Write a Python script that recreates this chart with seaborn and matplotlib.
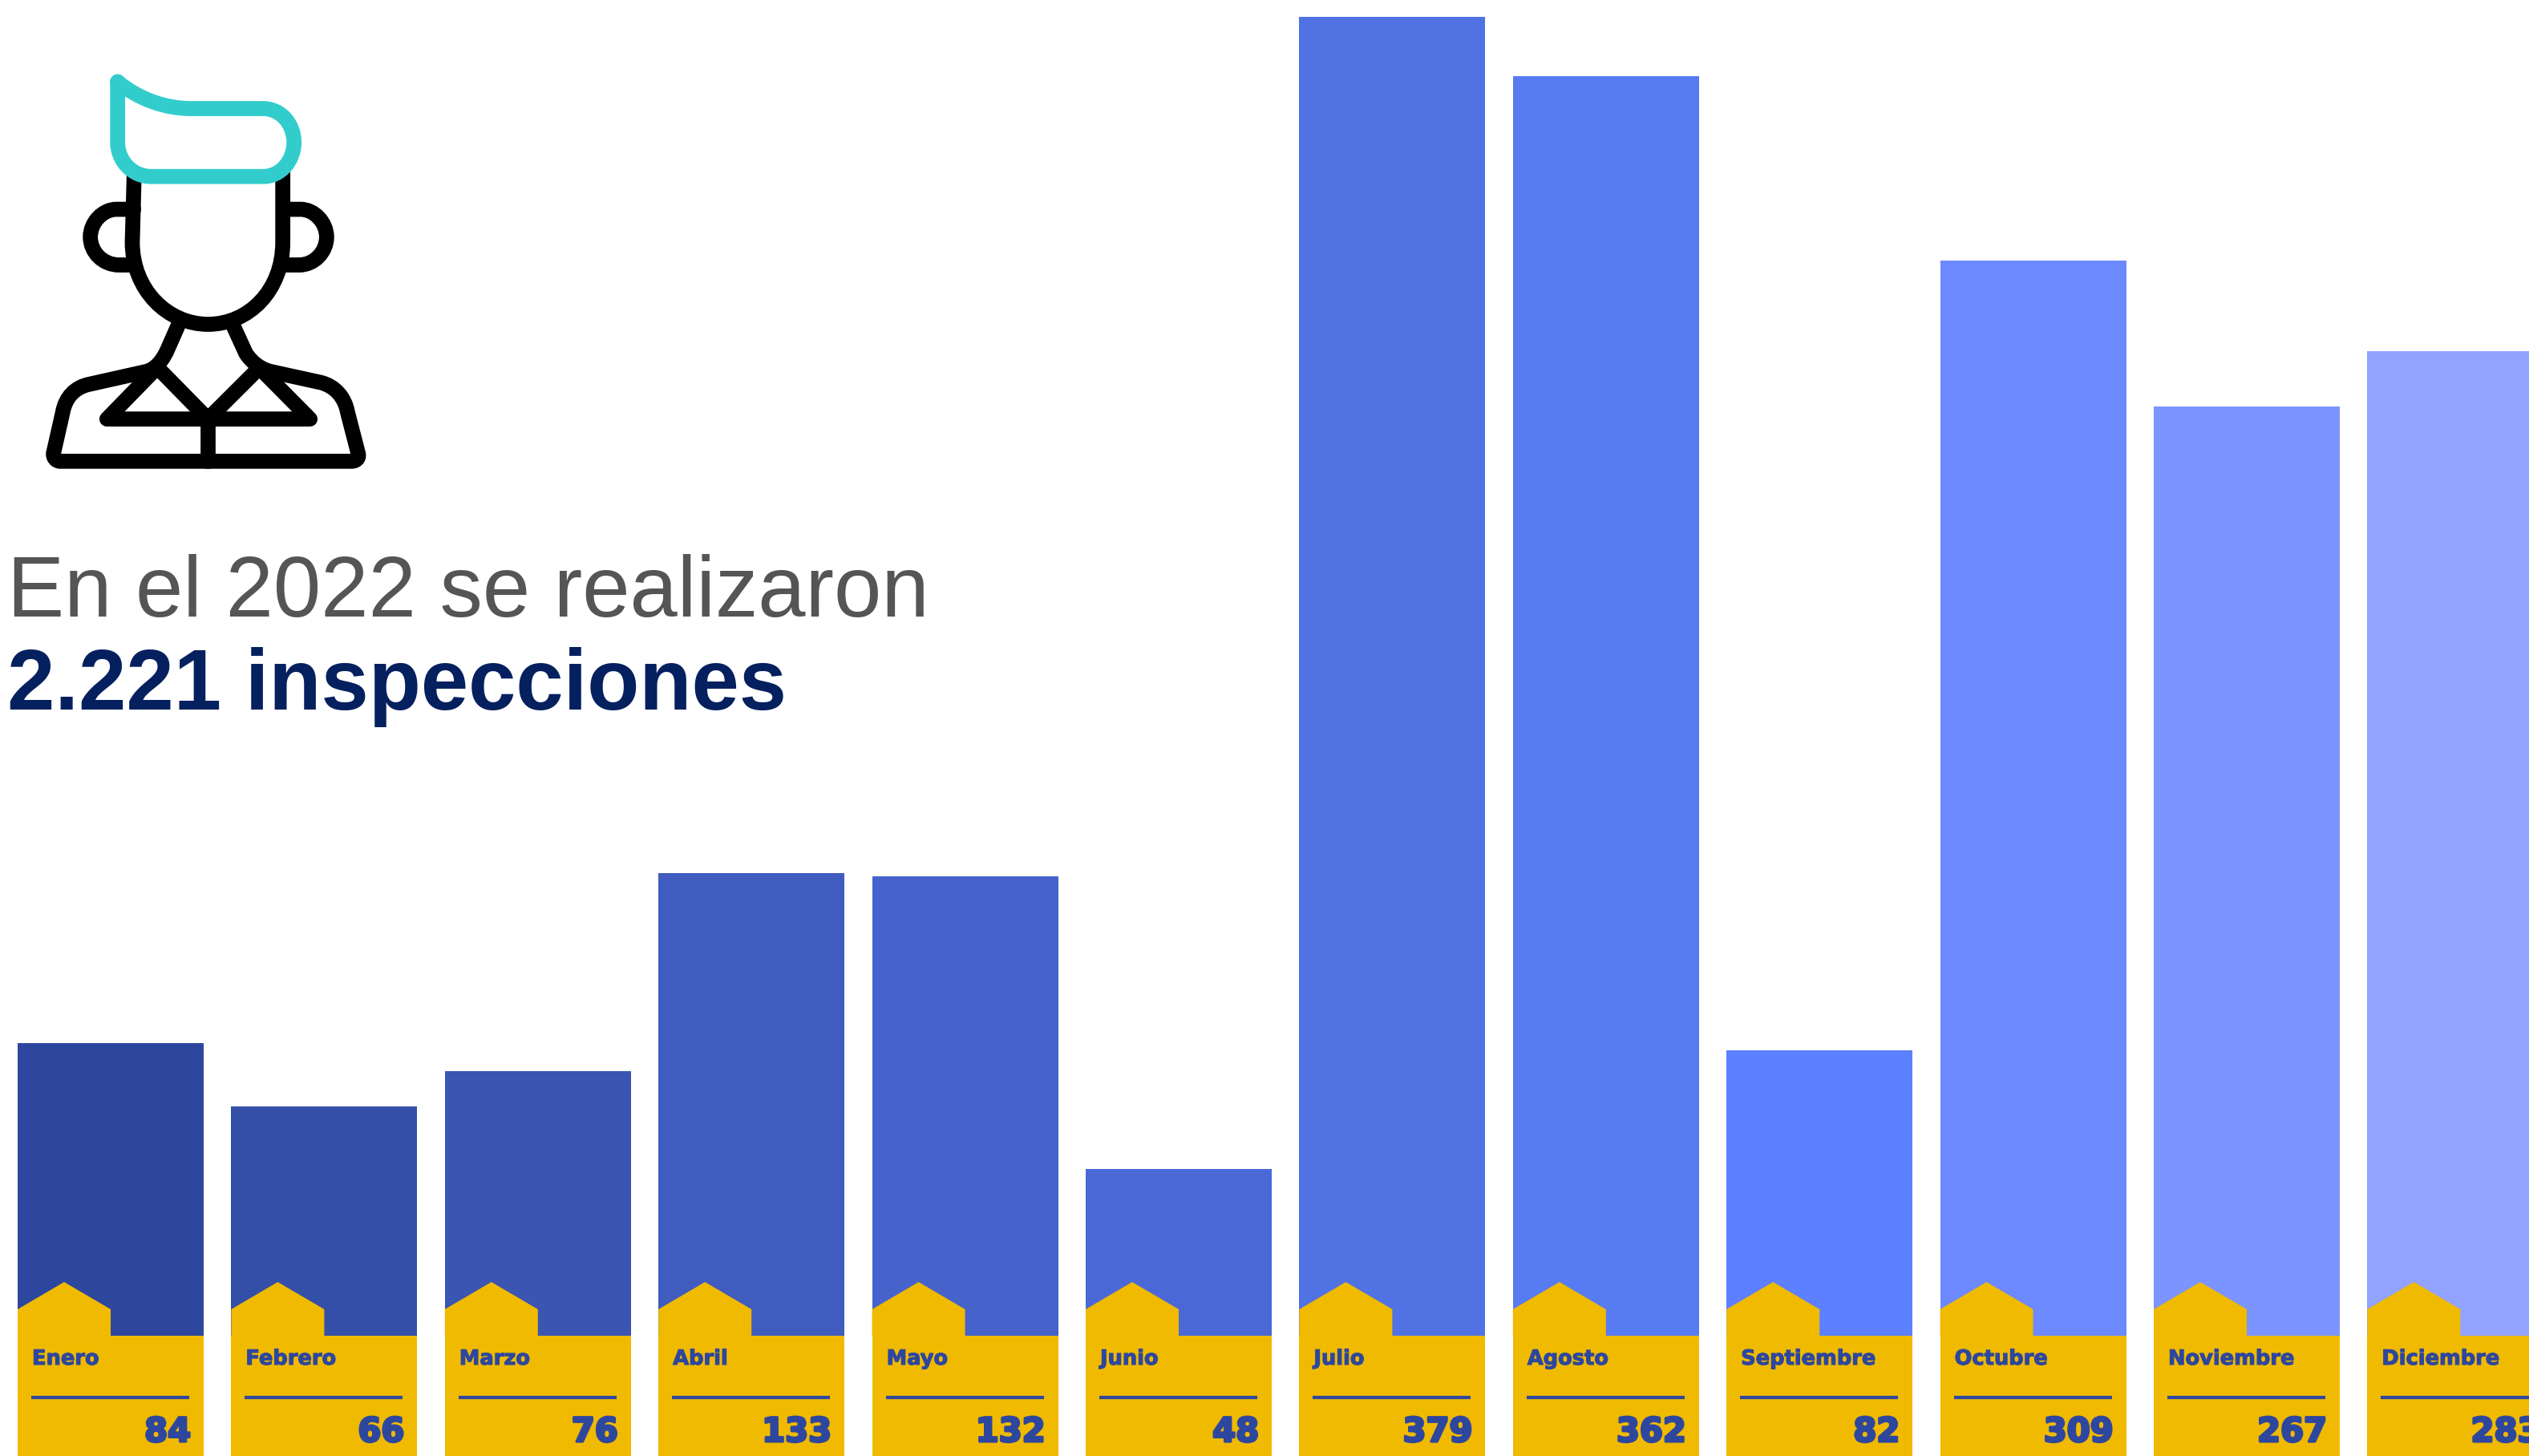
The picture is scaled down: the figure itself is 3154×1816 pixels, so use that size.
import seaborn as sns
import matplotlib.pyplot as plt
import matplotlib.patheffects as pe
from matplotlib.path import Path
from matplotlib.patches import PathPatch

meses = ["Enero", "Febrero", "Marzo", "Abril", "Mayo", "Junio", "Julio",
         "Agosto", "Septiembre", "Octubre", "Noviembre", "Diciembre"]
inspecciones = [84, 66, 76, 133, 132, 48, 379, 362, 82, 309, 267, 283]
colores = ["#2E479E", "#344FA8", "#3A55B2", "#405CBE", "#4563CB", "#4A69D6",
           "#5072E3", "#577BF1", "#5C80FF", "#6C89FF", "#7B94FF", "#91A2FF"]
AMARILLO = "#F0BA00"
AZUL_TEXTO = "#2E479E"

W, H = 3154, 1816
PASO = 266.4      # px between bars
ESCALA = 4.34     # px per inspection
CERO = 1666       # px row of value 0
ANCHO = 232 / PASO
base = [-(H - CERO) / ESCALA] * len(meses)

sns.set_theme(style="white")
plt.rcParams["font.family"] = ["Liberation Sans", "DejaVu Sans"]

fig = plt.figure(figsize=(W / 100, H / 100), dpi=100)
ax = fig.add_axes([0, 0, 1, 1])
sns.barplot(x=meses, y=inspecciones, hue=meses, palette=colores, width=ANCHO,
            saturation=1, legend=False, linewidth=0, ax=ax)
sns.barplot(x=meses, y=base, color=AMARILLO, width=ANCHO, saturation=1, linewidth=0, ax=ax)
ax.set_xlim(-138 / PASO, (W - 138) / PASO)
ax.set_ylim(-(H - CERO) / ESCALA, CERO / ESCALA)
ax.axis("off")

grueso = [pe.withStroke(linewidth=0.8, foreground=AZUL_TEXTO)]
mas_grueso = [pe.withStroke(linewidth=2.2, foreground=AZUL_TEXTO)]

# little house on top of each yellow card, text below it
for i, (mes, valor) in enumerate(zip(meses, inspecciones)):
    izq = i - ANCHO / 2
    ax.fill([izq, izq, izq + ANCHO / 4, izq + ANCHO / 2, izq + ANCHO / 2],
            [0, 33 / ESCALA, 67 / ESCALA, 33 / ESCALA, 0], color=AMARILLO, lw=0, zorder=3)
    ax.text(izq + 18 / PASO, -36 / ESCALA, mes, color=AZUL_TEXTO, fontsize=18.5,
            fontweight="bold", family="DejaVu Sans", va="baseline", ha="left", path_effects=grueso)
    ax.plot([izq + 17 / PASO, izq + 214 / PASO], [-77 / ESCALA] * 2, color=AZUL_TEXTO,
            lw=3, solid_capstyle="butt")
    ax.text(izq + 216 / PASO, -132 / ESCALA, str(valor), color=AZUL_TEXTO, fontsize=30,
            fontweight="bold", family="DejaVu Sans", va="baseline", ha="right", path_effects=mas_grueso)

# overlay in pixel coordinates for the title and the icon
capa = fig.add_axes([0, 0, 1, 1])
capa.set_xlim(0, W)
capa.set_ylim(H, 0)
capa.axis("off")
capa.patch.set_alpha(0)

capa.text(9, 769, "En el 2022 se realizaron", color="#555555", fontsize=76.8, va="baseline")
capa.text(9, 885, "2.221 inspecciones", color="#05205F", fontsize=76.8, fontweight="bold", va="baseline")


def trazo(puntos, color="black"):
    # puntos: start point, then 1 point = line, 3 points = bezier
    verts, codes = [puntos[0]], [Path.MOVETO]
    for p in puntos[1:]:
        if len(p) == 2 and not isinstance(p[0], tuple):
            verts.append(p)
            codes.append(Path.LINETO)
        else:
            verts.extend(p)
            codes.extend([Path.CURVE4] * 3)
    verts = [(x / 3, 60 + y / 2.81) for x, y in verts]
    capa.add_patch(PathPatch(Path(verts, codes), fill=False, edgecolor=color, lw=13.5,
                             capstyle="round", joinstyle="round"))


trazo([(502, 440), (495, 680), ((495, 850), (630, 968), (778, 968)),
       ((930, 968), (1058, 850), (1058, 680)), (1058, 430)])
trazo([(500, 565), (435, 565), ((385, 565), (338, 610), (338, 662)),
       ((338, 715), (385, 760), (445, 760)), (500, 760)])
trazo([(1060, 565), (1125, 565), ((1175, 565), (1222, 610), (1222, 662)),
       ((1222, 715), (1175, 760), (1120, 760)), (1065, 760)])
trazo([(665, 975), (625, 1060), ((600, 1110), (570, 1130), (540, 1135)), (335, 1178),
       ((280, 1188), (245, 1225), (235, 1275)), (200, 1420),
       ((198, 1435), (210, 1448), (225, 1448)), (1315, 1448),
       ((1335, 1448), (1345, 1435), (1340, 1420)), (1300, 1275),
       ((1290, 1225), (1255, 1185), (1200, 1172)), (1020, 1135),
       ((980, 1128), (945, 1105), (920, 1070)), (875, 978)])
trazo([(600, 1130), (778, 1300), (960, 1130)])
trazo([(582, 1125), (400, 1300), (1160, 1300), (975, 1125)])
trazo([(778, 1300), (778, 1448)])
trazo([(440, 118), ((520, 180), (620, 212), (715, 212)), (985, 212),
       ((1050, 212), (1100, 265), (1100, 330)), ((1100, 395), (1050, 450), (985, 450)),
       (565, 450), ((495, 450), (440, 395), (440, 330)), (440, 118)], color="#33CCCC")

fig.savefig("out.png", dpi=100)
